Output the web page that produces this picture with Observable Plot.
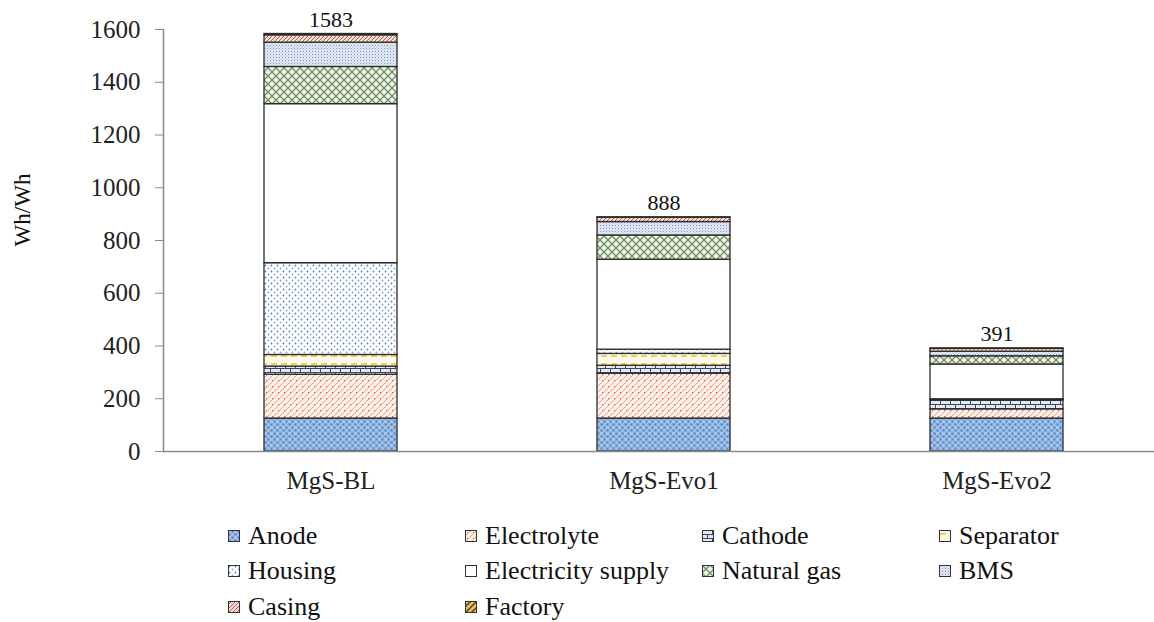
<!DOCTYPE html>
<html>
<head>
<meta charset="utf-8">
<script src="https://cdn.jsdelivr.net/npm/d3@7"></script>
<script src="https://cdn.jsdelivr.net/npm/@observablehq/plot@0.6"></script>
<style>
  html, body { margin: 0; padding: 0; background: #fff; }
  body { width: 1154px; height: 622px; overflow: hidden; }
  #chart { position: relative; }
  .legend { position: absolute; left: 228px; top: 518px; display: grid; grid-template-columns: repeat(4, 237px); grid-auto-rows: 35.5px; }
  .legend .item { display: flex; align-items: center; font-size: 26px; color: #111; white-space: nowrap; }
  .legend svg { margin-right: 8px; flex: none; }
</style>
</head>
<body>
<div id="chart"></div>
<script>
const bars = ["MgS-BL", "MgS-Evo1", "MgS-Evo2"];
const components = ["Anode", "Electrolyte", "Cathode", "Separator", "Housing", "Electricity supply", "Natural gas", "BMS", "Casing", "Factory"];
const valuesBL   = [125, 166, 31, 44, 348, 603, 141, 92, 28, 5];
const valuesEvo1 = [125, 170, 30, 45, 16, 341, 92, 51, 16, 2];
const valuesEvo2 = [125, 35, 33, 3, 2, 132, 31, 17, 11, 2];
const totals = [1583, 888, 391];
const yTicks = [0, 200, 400, 600, 800, 1000, 1200, 1400, 1600];

const seriesByBar = [valuesBL, valuesEvo1, valuesEvo2];
const data = [];
bars.forEach((b, i) => components.forEach((c, j) => data.push({bar: b, comp: c, value: seriesByBar[i][j]})));
const totalData = bars.map((b, i) => ({bar: b, total: totals[i]}));
const patIds = components.map((c, i) => `url(#pat${i})`);

const defsMarkup = `
<defs>
  <pattern id="pat0" patternUnits="userSpaceOnUse" width="6" height="6">
    <rect width="6" height="6" fill="#7aa3d6"/>
    <rect x="0" y="0" width="3" height="3" fill="#a8c5ea"/>
    <rect x="3" y="3" width="3" height="3" fill="#9dbde6"/>
    <rect x="1" y="4" width="1" height="1" fill="#4f7fc0"/>
    <rect x="4" y="1" width="1" height="1" fill="#4f7fc0"/>
  </pattern>
  <pattern id="pat1" patternUnits="userSpaceOnUse" width="6" height="6">
    <rect width="6" height="6" fill="#fdf0ea"/>
    <path d="M0,6 L6,0 M-1,1 L1,-1 M5,7 L7,5" stroke="#eba184" stroke-width="1"/>
    <rect x="2" y="2" width="1" height="1" fill="#d9684a"/>
  </pattern>
  <pattern id="pat2" patternUnits="userSpaceOnUse" width="10" height="8">
    <rect width="10" height="8" fill="#e3e8f1"/>
    <path d="M0,0.5 H10 M0,4.5 H10 M0.5,0 V4 M5.5,4 V8" stroke="#3c4862" stroke-width="1"/>
  </pattern>
  <pattern id="pat3" patternUnits="userSpaceOnUse" width="10" height="8">
    <rect width="10" height="8" fill="#fffbeb"/>
    <path d="M1,4 H7" stroke="#f0bf2a" stroke-width="1.5"/>
  </pattern>
  <pattern id="pat4" patternUnits="userSpaceOnUse" width="6" height="6">
    <rect width="6" height="6" fill="#ffffff"/>
    <circle cx="1.5" cy="1.5" r="0.9" fill="#4f7ed6"/>
    <circle cx="4.5" cy="4.5" r="0.9" fill="#7fa2e2"/>
  </pattern>
  <pattern id="pat5" patternUnits="userSpaceOnUse" width="8" height="8">
    <rect width="8" height="8" fill="#ffffff"/>
  </pattern>
  <pattern id="pat6" patternUnits="userSpaceOnUse" width="8" height="8">
    <rect width="8" height="8" fill="#eef4ea"/>
    <path d="M0,0 L8,8 M8,0 L0,8" stroke="#6f8f60" stroke-width="1.3"/>
  </pattern>
  <pattern id="pat7" patternUnits="userSpaceOnUse" width="3" height="3">
    <rect width="3" height="3" fill="#e6ebf5"/>
    <rect x="0" y="0" width="1" height="1" fill="#7d93c4"/>
    <rect x="1.5" y="1.5" width="1" height="1" fill="#a3b3d6"/>
  </pattern>
  <pattern id="pat8" patternUnits="userSpaceOnUse" width="4" height="4">
    <rect width="4" height="4" fill="#f4ddd4"/>
    <path d="M0,4 L4,0 M-1,1 L1,-1 M3,5 L5,3" stroke="#b8604c" stroke-width="1"/>
  </pattern>
  <pattern id="pat9" patternUnits="userSpaceOnUse" width="6" height="6">
    <rect width="6" height="6" fill="#e9c560"/>
    <path d="M0,6 L6,0 M-1.5,1.5 L1.5,-1.5 M4.5,7.5 L7.5,4.5" stroke="#6e4a22" stroke-width="1.6"/>
  </pattern>
</defs>`;

const font = "Liberation Serif";

const plot = Plot.plot({
  width: 1154,
  height: 500,
  marginLeft: 163,
  marginRight: 0,
  marginTop: 29,
  marginBottom: 49,
  style: {fontSize: "24px", color: "#222", background: "#fff"},
  x: {domain: bars, range: [163.3, 1163.3], paddingInner: 0.6, paddingOuter: 0.3, label: null},
  y: {domain: [0, 1600], label: null},
  color: {domain: components, range: patIds, type: "ordinal"},
  marks: [
    Plot.barY(data, Plot.stackY({x: "bar", y: "value", fill: "comp", order: components, stroke: "#2b2b2b", strokeWidth: 1.3})),
    Plot.frame({anchor: "left", stroke: "#8a8a8a", strokeWidth: 1.5}),
    Plot.ruleY([0], {stroke: "#8a8a8a", strokeWidth: 1.5}),
    Plot.axisY({ticks: yTicks, tickSize: 8, tickPadding: 15, stroke: "#8a8a8a", fontSize: 25, tickFormat: d => String(d), label: null}),
    Plot.axisX({tickSize: 0, tickPadding: 20, fontSize: 25, label: null}),
    Plot.text(totalData, {x: "bar", y: "total", text: d => String(d.total), dy: -14, fontSize: 22, fill: "#111"})
  ]
});

plot.insertAdjacentHTML("afterbegin", defsMarkup);
d3.select(plot).append("text")
  .attr("transform", "translate(30,210) rotate(-90)")
  .attr("text-anchor", "middle")
  .attr("font-size", 23)
  .attr("fill", "#111")
  .text("Wh/Wh");

d3.select(plot).attr("font-family", font).style("font-family", font);
d3.select(plot).selectAll("g, text").attr("font-family", font).style("font-family", font);

const chart = document.getElementById("chart");
chart.appendChild(plot);

const legend = document.createElement("div");
legend.className = "legend";
legend.style.fontFamily = font;
components.forEach((c, i) => {
  const item = document.createElement("div");
  item.className = "item";
  item.style.fontFamily = "'Liberation Serif'";
  item.innerHTML = `<svg width="12" height="12"><rect x="0.5" y="0.5" width="11" height="11" fill="${patIds[i]}" stroke="#333" stroke-width="1"/></svg><span style="font-family:'Liberation Serif'">${c}</span>`;
  legend.appendChild(item);
});
chart.appendChild(legend);
</script>
</body>
</html>
